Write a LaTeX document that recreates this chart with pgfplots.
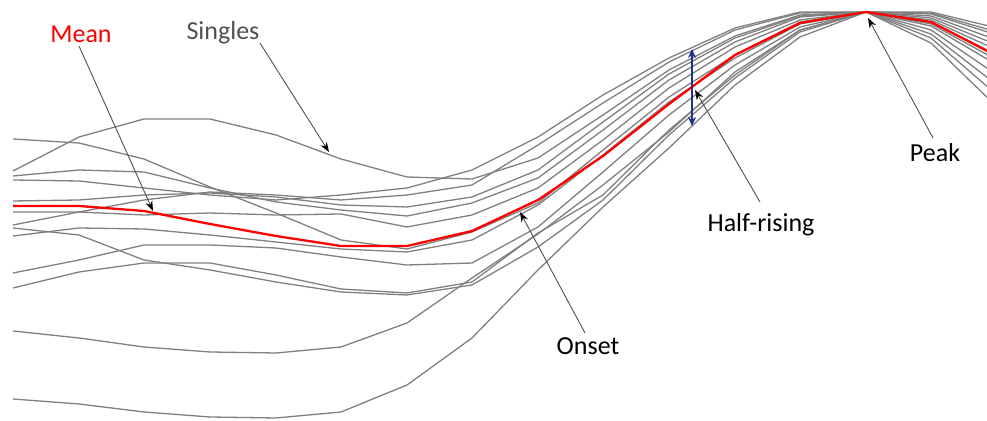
\documentclass[border=0pt]{standalone}
\usepackage{pgfplots}
\pgfplotsset{compat=1.18}
\usepackage{pgfplotstable}
\usepackage{fontspec}
\setmainfont{Carlito}
\usetikzlibrary{arrows.meta}
\definecolor{linegray}{RGB}{128,128,128}
\definecolor{txtgray}{RGB}{80,80,80}
\definecolor{arrblue}{RGB}{28,50,140}

\pgfplotstableread{
x   A   B   C   D   E   F   G   H   I   J   K   Y   Z   M
13  171 139 176 180 201 212 225 228 236 273 288 331 399 206
79  137 143 170 181 200 212 212 235 228 260 272 338 404 206
144 119 159 172 188 195 215 200 260 229 245 263 347 412 211
210 119 187 188 195 193 213 192 270 235 245 263 352 417 224
276 135 213 202 200 197 215 195 282 242 248 275 353 418 236
341 159 240 210 195 205 214 200 292 249 257 289 347 412 246
407 177 249 216 188 207 227 195 295 252 265 293 323 385 246
472 179 232 203 170 197 215 185 285 240 263 282 278 338 231
538 158 203 178 137 170 188 145 247 205 227 233 234 270 200
603 115 150 130 95  122 140 103 200 155 172 195 185 207 156
669 70  97  80  58  74  88  62  135 102 115 130 132 148 104
735 36  55  42  28  38  47  30  78  58  65  75  72  85  55
800 15  22  17  12  16  20  13  32  24  27  30  30  37  23
866 12  12  12  12  12  12  12  12  12  12  12  12  12  12
931 16  22  18  12  13  20  14  34  24  26  30  38  43  22
997 40  55  45  28  32  50  35  85  60  65  75  95  107 56
}\data

\begin{document}
\begin{tikzpicture}
\begin{axis}[
  hide axis, scale only axis,
  width=493.5pt, height=210.5pt,
  xmin=0, xmax=987, ymin=0, ymax=421,
  y dir=reverse, clip=true,
  every axis plot/.append style={line join=round},
]
\foreach \c in {A,B,C,D,E,F,G,H,I,J,K,Y,Z}{
  \addplot[linegray, line width=0.65pt, mark=none] table[x=x, y=\c] {\data};
}
\addplot[red, line width=1.15pt, mark=none] table[x=x, y=M] {\data};

% blue double arrow
\draw[arrblue, line width=1.3pt, {Stealth[length=4.5pt,width=4pt]}-{Stealth[length=4.5pt,width=4pt]}]
  (axis cs:692,49) -- (axis cs:692,126);

% annotation arrows
\tikzset{ann/.style={txtgray, line width=0.45pt, -{Stealth[length=5pt,width=3.6pt,color=black]}}}
\draw[ann] (axis cs:79,46) -- (axis cs:153,211);
\draw[ann] (axis cs:260,43) -- (axis cs:329,152);
\draw[ann] (axis cs:585,333) -- (axis cs:520,212);
\draw[ann] (axis cs:760,202) -- (axis cs:695,90);
\draw[ann] (axis cs:933,138) -- (axis cs:868,18);

\node[anchor=base, font=\fontsize{13}{15}\selectfont, text=red, inner sep=0pt] at (axis cs:81,43) {Mean};
\node[anchor=base, font=\fontsize{13}{15}\selectfont, text=txtgray, inner sep=0pt] at (axis cs:223,40) {Singles};
\node[anchor=base, font=\fontsize{13}{15}\selectfont, text=black, inner sep=0pt] at (axis cs:588,355) {Onset};
\node[anchor=base, font=\fontsize{13}{15}\selectfont, text=black, inner sep=0pt] at (axis cs:761,232) {Half-rising};
\node[anchor=base, font=\fontsize{13}{15}\selectfont, text=black, inner sep=0pt] at (axis cs:935,162) {Peak};
\end{axis}
\pgfresetboundingbox
\useasboundingbox (current axis.south west) rectangle (current axis.north east);
\end{tikzpicture}
\end{document}
